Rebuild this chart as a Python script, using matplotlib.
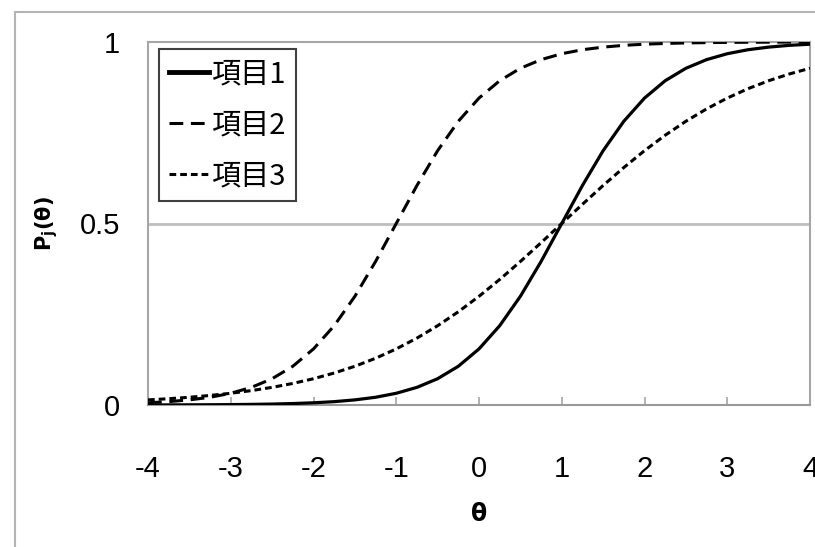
import matplotlib.pyplot as plt
from matplotlib.patches import Rectangle

# theta grid, step 0.25
theta = [-4 + 0.25 * i for i in range(33)]

item1 = [0.0002, 0.0003, 0.0005, 0.0007, 0.0011, 0.0017, 0.0026, 0.0040, 0.0061,
         0.0092, 0.0141, 0.0213, 0.0323, 0.0486, 0.0724, 0.1067, 0.1545, 0.2184,
         0.2994, 0.3953, 0.5000, 0.6047, 0.7006, 0.7816, 0.8455, 0.8933, 0.9276,
         0.9514, 0.9677, 0.9787, 0.9859, 0.9908, 0.9939]
item2 = [0.0061, 0.0092, 0.0141, 0.0213, 0.0323, 0.0486, 0.0724, 0.1067, 0.1545,
         0.2184, 0.2994, 0.3953, 0.5000, 0.6047, 0.7006, 0.7816, 0.8455, 0.8933,
         0.9276, 0.9514, 0.9677, 0.9787, 0.9859, 0.9908, 0.9939, 0.9960, 0.9974,
         0.9983, 0.9989, 0.9993, 0.9995, 0.9997, 0.9998]
item3 = [0.0141, 0.0173, 0.0213, 0.0263, 0.0323, 0.0397, 0.0486, 0.0594, 0.0724,
         0.0881, 0.1067, 0.1287, 0.1545, 0.1843, 0.2184, 0.2568, 0.2994, 0.3458,
         0.3953, 0.4471, 0.5000, 0.5529, 0.6047, 0.6542, 0.7006, 0.7432, 0.7816,
         0.8157, 0.8455, 0.8713, 0.8933, 0.9119, 0.9276]

labels = ['項目1', '項目2', '項目3']
xticks = [-4, -3, -2, -1, 0, 1, 2, 3, 4]
yticks = [0, 0.5, 1]
ytick_labels = ['0', '0.5', '1']

num_font = ['Liberation Sans Narrow', 'Liberation Sans']
cjk_font = ['Noto Sans CJK JP', 'DejaVu Sans']

fig = plt.figure(figsize=(8.15, 5.47), dpi=100)
# outer chart frame
fig.patches.append(Rectangle((15 / 815, -0.1), 1.2, 1 - 12 / 547 + 0.1,
                             transform=fig.transFigure, fill=False,
                             edgecolor='#b4b4b4', linewidth=1.5))

ax = fig.add_axes([148 / 815, 1 - 405 / 547, 662 / 815, 363 / 547])

ax.axhline(0.5, color='#bfbfbf', linewidth=2, zorder=1)

ax.plot(theta, item1, color='black', linewidth=2.3, label=labels[0], zorder=3)
ax.plot(theta, item2, color='black', linewidth=2.2, dashes=(4.5, 2.5), label=labels[1], zorder=3)
ax.plot(theta, item3, color='black', linewidth=2.2, dashes=(2.2, 1.3), label=labels[2], zorder=3)

ax.set_xlim(-4, 4)
ax.set_ylim(0, 1)
for s in ax.spines.values():
    s.set_color('#a6a6a6')
    s.set_linewidth(1.5)
ax.spines['bottom'].set_color('#999999')

ax.set_xticks(xticks)
ax.set_xticklabels([str(t) for t in xticks], family=num_font, fontsize=21)
ax.set_yticks(yticks)
ax.set_yticklabels(ytick_labels, family=num_font, fontsize=21)
ax.tick_params(axis='x', direction='in', length=6, width=1.2, color='#a6a6a6', pad=36)
ax.tick_params(axis='y', length=0, pad=20)

ax.set_xlabel('θ', fontsize=17, fontweight='bold', labelpad=14)
ax.set_ylabel(r'$\mathbf{P_j(\theta)}$', fontsize=15, labelpad=14)

leg = ax.legend(loc='upper left', bbox_to_anchor=(11 / 662, 356 / 363), borderaxespad=0,
                prop={'family': cjk_font, 'size': 21}, frameon=True, fancybox=False,
                edgecolor='#404040', handlelength=1.35, handletextpad=0.1,
                borderpad=0.35, labelspacing=0.72)
leg.get_frame().set_linewidth(1.5)
leg.get_frame().set_alpha(1)
leg.get_lines()[0].set_linewidth(3.5)

fig.savefig('out.png', dpi=100)
